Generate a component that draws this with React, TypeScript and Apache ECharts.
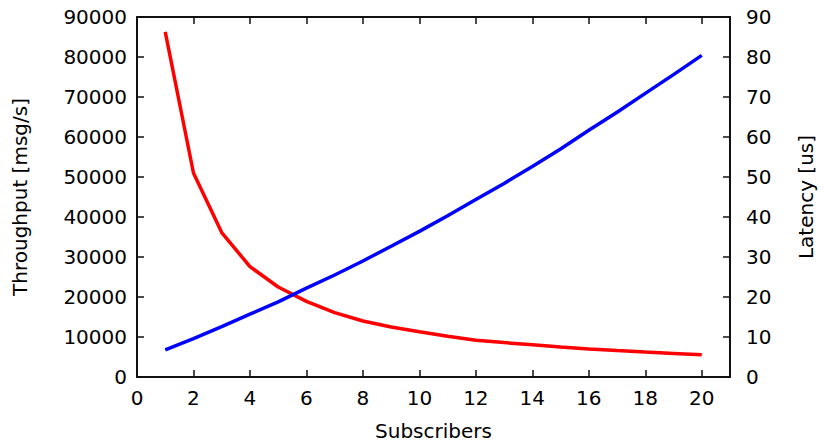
import React, { useEffect, useRef } from "react";
import * as echarts from "echarts";

const subscribers = [1, 2, 3, 4, 5, 6, 7, 8, 9, 10, 11, 12, 13, 14, 15, 16, 17, 18, 19, 20];
const throughput = [86300, 51000, 36100, 27600, 22500, 18900, 16100, 14000, 12500, 11300, 10200, 9200, 8600, 8050, 7500, 7000, 6600, 6230, 5900, 5560];
const latency = [6.8, 9.6, 12.6, 15.7, 18.8, 22.2, 25.5, 29.0, 32.7, 36.4, 40.3, 44.4, 48.4, 52.6, 57.0, 61.7, 66.2, 70.9, 75.6, 80.4];

const FONT = "DejaVu Sans";
const FS = 20;

export default function App() {
  const ref = useRef<HTMLDivElement>(null);
  useEffect(() => {
    if (!ref.current) return;
    const chart = echarts.init(ref.current, undefined, { renderer: "svg" });
    const axisLine = { show: true, onZero: false, lineStyle: { color: "#111", width: 2 } };
    const axisTick = { show: true, inside: true, length: 7, lineStyle: { color: "#111", width: 1.5 } };
    const label = { color: "#000", fontFamily: FONT, fontSize: FS };
    const plain = (v: number) => String(v);
    chart.setOption({
      animation: false,
      backgroundColor: "#fff",
      grid: { left: 137, top: 17, right: 87, bottom: 68, containLabel: false },
      xAxis: [
        {
          type: "value",
          min: 0,
          max: 21,
          interval: 2,
          position: "bottom",
          name: "Subscribers",
          nameLocation: "middle",
          nameGap: 44,
          nameTextStyle: { ...label },
          axisLine,
          axisTick,
          splitLine: { show: false },
          axisLabel: { ...label, margin: 11, showMaxLabel: false, formatter: (v: number) => (v > 20 ? "" : String(v)) },
        },
        {
          type: "value",
          min: 0,
          max: 21,
          interval: 2,
          position: "top",
          axisLine,
          axisTick,
          splitLine: { show: false },
          axisLabel: { show: false },
        },
      ],
      yAxis: [
        {
          type: "value",
          min: 0,
          max: 90000,
          interval: 10000,
          position: "left",
          name: "Throughput [msg/s]",
          nameLocation: "middle",
          nameGap: 107,
          nameRotate: 90,
          nameTextStyle: { ...label },
          axisLine,
          axisTick,
          splitLine: { show: false },
          axisLabel: { ...label, margin: 10, formatter: plain },
        },
        {
          type: "value",
          min: 0,
          max: 90,
          interval: 10,
          position: "right",
          name: "Latency [us]",
          nameLocation: "middle",
          nameGap: 66,
          nameRotate: 90,
          nameTextStyle: { ...label },
          axisLine,
          axisTick,
          splitLine: { show: false },
          axisLabel: { ...label, margin: 16, formatter: plain },
        },
      ],
      series: [
        {
          type: "line",
          name: "Throughput",
          xAxisIndex: 0,
          yAxisIndex: 0,
          data: subscribers.map((s, i) => [s, throughput[i]]),
          showSymbol: false,
          symbol: "none",
          lineStyle: { color: "#ff0000", width: 3.5 },
          itemStyle: { color: "#ff0000" },
        },
        {
          type: "line",
          name: "Latency",
          xAxisIndex: 0,
          yAxisIndex: 1,
          data: subscribers.map((s, i) => [s, latency[i]]),
          showSymbol: false,
          symbol: "none",
          lineStyle: { color: "#0000ff", width: 3.5 },
          itemStyle: { color: "#0000ff" },
        },
      ],
    });
    return () => chart.dispose();
  }, []);
  return <div ref={ref} style={{ position: "fixed", left: 0, top: 0, width: 824, height: 446 }} />;
}
